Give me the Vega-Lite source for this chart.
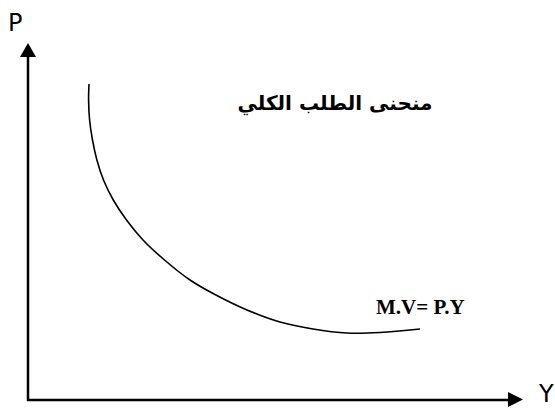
{
  "$schema": "https://vega.github.io/schema/vega-lite/v6.json",
  "width": 555,
  "height": 408,
  "padding": 0,
  "autosize": {"type": "none"},
  "background": "white",
  "config": {"view": {"stroke": null}},
  "datasets": {
    "axes": [
      {"axis": "P", "x1": 0, "x2": 0, "y1": -1, "y2": 345},
      {"axis": "Y", "x1": -1, "x2": 482, "y1": 0, "y2": 0}
    ],
    "arrows": [
      {"axis": "P", "x": 0, "y": 350, "dir": "up"},
      {"axis": "Y", "x": 487.5, "y": 0.5, "dir": "right"}
    ],
    "curve": [
      {"order": 1, "x": 61, "y": 316},
      {"order": 2, "x": 60.6, "y": 300},
      {"order": 3, "x": 61.6, "y": 280},
      {"order": 4, "x": 64.5, "y": 260},
      {"order": 5, "x": 68.9, "y": 240},
      {"order": 6, "x": 75.5, "y": 220},
      {"order": 7, "x": 85.3, "y": 200},
      {"order": 8, "x": 98.5, "y": 180},
      {"order": 9, "x": 115, "y": 160},
      {"order": 10, "x": 136.5, "y": 140},
      {"order": 11, "x": 162, "y": 120},
      {"order": 12, "x": 186, "y": 106},
      {"order": 13, "x": 219, "y": 90},
      {"order": 14, "x": 252, "y": 78},
      {"order": 15, "x": 285, "y": 71},
      {"order": 16, "x": 319, "y": 67},
      {"order": 17, "x": 352, "y": 67.5},
      {"order": 18, "x": 392, "y": 71}
    ],
    "labels": [
      {"text": "P", "x": -20, "y": 369},
      {"text": "Y", "x": 511, "y": -1.5}
    ]
  },
  "layer": [
    {
      "data": {"name": "axes"},
      "mark": {"type": "rule", "stroke": "black", "strokeWidth": 2.5},
      "encoding": {
        "x": {"field": "x1", "type": "quantitative", "scale": {"domain": [-28, 527], "nice": false, "zero": false}, "axis": null},
        "x2": {"field": "x2"},
        "y": {"field": "y1", "type": "quantitative", "scale": {"domain": [-8, 400], "nice": false, "zero": false}, "axis": null},
        "y2": {"field": "y2"}
      }
    },
    {
      "data": {"name": "arrows"},
      "transform": [{"filter": "datum.dir == 'up'"}],
      "mark": {"type": "point", "filled": true, "color": "black", "opacity": 1, "size": 256, "shape": "M0,-0.875L1,0.875L-1,0.875Z"},
      "encoding": {
        "x": {"field": "x", "type": "quantitative"},
        "y": {"field": "y", "type": "quantitative"}
      }
    },
    {
      "data": {"name": "arrows"},
      "transform": [{"filter": "datum.dir == 'right'"}],
      "mark": {"type": "point", "filled": true, "color": "black", "opacity": 1, "size": 256, "shape": "M0.94,0L-0.94,-0.94L-0.94,0.94Z"},
      "encoding": {
        "x": {"field": "x", "type": "quantitative"},
        "y": {"field": "y", "type": "quantitative"}
      }
    },
    {
      "data": {"name": "curve"},
      "mark": {"type": "line", "stroke": "black", "strokeWidth": 1.6, "interpolate": "catmull-rom"},
      "encoding": {
        "x": {"field": "x", "type": "quantitative"},
        "y": {"field": "y", "type": "quantitative"},
        "order": {"field": "order", "type": "quantitative"}
      }
    },
    {
      "data": {"name": "labels"},
      "mark": {"type": "text", "font": "DejaVu Sans", "fontSize": 24, "align": "left", "baseline": "alphabetic", "color": "black"},
      "encoding": {
        "x": {"field": "x", "type": "quantitative"},
        "y": {"field": "y", "type": "quantitative"},
        "text": {"field": "text"}
      }
    },
    {
      "data": {"values": [{"text": "منحنى الطلب الكلي", "x": 307, "y": 296}]},
      "mark": {"type": "text", "font": "DejaVu Sans", "fontWeight": "bold", "fontSize": 20, "align": "center", "baseline": "middle", "color": "black"},
      "encoding": {
        "x": {"field": "x", "type": "quantitative"},
        "y": {"field": "y", "type": "quantitative"},
        "text": {"field": "text"}
      }
    },
    {
      "data": {"values": [{"text": "M.V= P.Y", "x": 348, "y": 86}]},
      "mark": {"type": "text", "font": "Liberation Serif", "fontWeight": "bold", "fontSize": 21, "align": "left", "baseline": "alphabetic", "color": "black"},
      "encoding": {
        "x": {"field": "x", "type": "quantitative"},
        "y": {"field": "y", "type": "quantitative"},
        "text": {"field": "text"}
      }
    }
  ]
}
